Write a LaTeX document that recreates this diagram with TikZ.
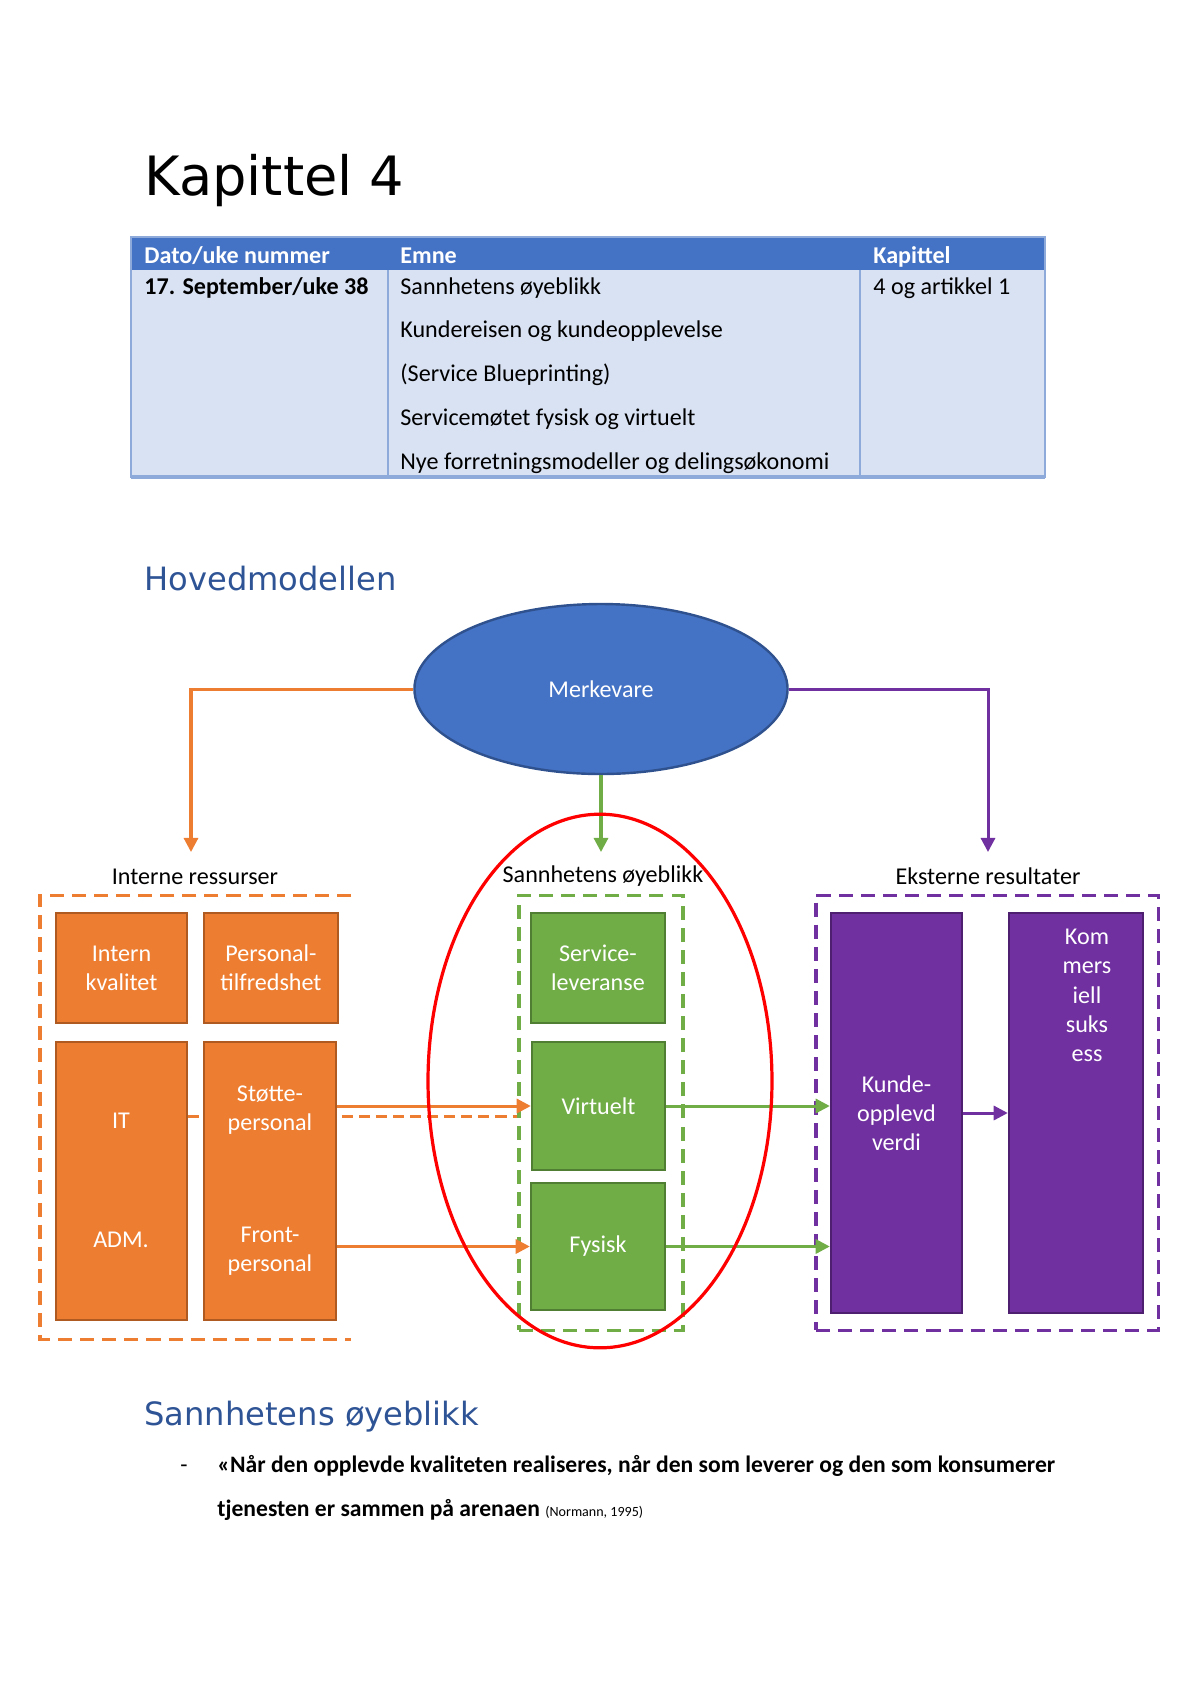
\documentclass[tikz,border=0pt]{standalone}
\usepackage{fontspec}
\setmainfont{Carlito}
\newfontfamily\headfont{DejaVu Sans}
\usetikzlibrary{shapes.geometric,arrows.meta}
\definecolor{tblue}{HTML}{4472C4}
\definecolor{tlight}{HTML}{D9E2F3}
\definecolor{tline}{HTML}{8EAADB}
\definecolor{hblue}{HTML}{2F5496}
\definecolor{oran}{HTML}{ED7D31}
\definecolor{oranD}{HTML}{AE5A21}
\definecolor{gree}{HTML}{70AD47}
\definecolor{greeD}{HTML}{507E32}
\definecolor{purp}{HTML}{7030A0}
\definecolor{purpD}{HTML}{4E1F70}
\definecolor{ellD}{HTML}{2F528F}
\tikzset{
  boxsize/.style 2 args={minimum width=#1*0.0175cm,minimum height=#2*0.0175cm},
  boxtext/.style={text=white,align=center,font=\fontsize{12}{14.5}\selectfont},
  obox/.style={draw=oranD,fill=oran,line width=1.2pt,inner sep=0pt,boxtext},
  gbox/.style={draw=greeD,fill=gree,line width=1.2pt,inner sep=0pt,boxtext},
  pbox/.style={draw=purpD,fill=purp,line width=1.2pt,inner sep=0pt,boxtext},
  dashbox/.style={line width=1.5pt,dash pattern=on 7pt off 4pt,inner sep=0pt},
  grouplabel/.style={anchor=mid,font=\fontsize{12}{14.5}\selectfont},
  celltext/.style={anchor=mid west,inner sep=0pt,font=\fontsize{12}{14}\selectfont},
  quotetext/.style={anchor=mid west,inner sep=0pt,font=\bfseries\fontsize{11.75}{14}\selectfont},
}
\begin{document}
\begin{tikzpicture}[x=0.0175cm,y=-0.0175cm,>={Triangle[length=7pt,width=7pt]}]
    \useasboundingbox (0,0) rectangle (1200,1698);
    \node[anchor=base west,inner sep=0pt,font=\headfont\fontsize{27}{31}\selectfont] (title) at (144,195) {Kapittel 4};
    % table
    \fill[tlight] (131,270) rectangle (1045,477);
    \fill[tblue] (131,237) rectangle (1045,270);
    \draw[tline,line width=1pt] (131,237) rectangle (1045,477);
    \draw[tline,line width=1pt] (388,270) -- (388,477) (860,270) -- (860,477);
    \draw[tline,line width=2pt] (131,477) -- (1045,477);
    \node[celltext,text=white,font=\bfseries\fontsize{12}{14}\selectfont] (h1) at (144,259) {Dato/uke nummer};
    \node[celltext,text=white,font=\bfseries\fontsize{12}{14}\selectfont] (h2) at (400,259) {Emne};
    \node[celltext,text=white,font=\bfseries\fontsize{12}{14}\selectfont] (h3) at (873,259) {Kapittel};
    \node[celltext,font=\bfseries\fontsize{12}{14}\selectfont] (dato) at (144,290) {17. September/uke 38};
    \node[celltext] (emne1) at (400,290) {Sannhetens øyeblikk};
    \node[celltext] (emne2) at (400,333) {Kundereisen og kundeopplevelse};
    \node[celltext] (emne3) at (400,377) {(Service Blueprinting)};
    \node[celltext] (emne4) at (400,421) {Servicemøtet fysisk og virtuelt};
    \node[celltext] (emne5) at (400,465) {Nye forretningsmodeller og delingsøkonomi};
    \node[celltext] (kap) at (873,290) {4 og artikkel 1};
    \node[anchor=base west,inner sep=0pt,text=hblue,font=\headfont\fontsize{16}{19}\selectfont] (hoved) at (144,590) {Hovedmodellen};
    % model
    \node[ellipse,draw=ellD,fill=tblue,line width=1.2pt,minimum width=6.53cm,minimum height=2.975cm,boxtext] (merke) at (601,689) {Merkevare};
    \coordinate (oend) at (191,852);
    \coordinate (gend) at (601,852);
    \coordinate (pend) at (988,852);
    \draw[oran,line width=1.5pt,->] (merke.west) -| (oend);
    \draw[gree,line width=1.5pt,->] (merke.south) -- (gend);
    \draw[purp,line width=1.5pt,->] (merke.east) -| (pend);
    \node[grouplabel] (intlab) at (195,880) {Interne ressurser};
    \node[grouplabel] (sanlab) at (603,878) {Sannhetens øyeblikk};
    \node[grouplabel] (ekslab) at (988,880) {Eksterne resultater};
    \draw[dashbox,oran] (351,895) -- (40,895) -- (40,1339) -- (351,1339);
    \node[dashbox,draw=gree,boxsize={164}{435}] (gdash) at (601,1112.5) {};
    \node[dashbox,draw=purp,boxsize={342}{435}] (pdash) at (987,1112.5) {};
    \node[obox,boxsize={131}{110}] (intern) at (121.5,968) {Intern\\kvalitet};
    \node[obox,boxsize={134}{110}] (tilfreds) at (271,968) {Personal-\\tilfredshet};
    \node[obox,boxsize={131}{278}] (itadm) at (121.5,1181) {};
    \draw[oran,line width=1.5pt,dash pattern=on 5.5pt off 3pt] (itadm.east |- 0,1116) -- (gdash.west |- 0,1116);
    \node[obox,boxsize={132}{278}] (personal) at (270,1181) {};
    \node[boxtext] (it) at (121,1121) {IT};
    \node[boxtext] (adm) at (121,1240) {ADM.};
    \node[boxtext] (stotte) at (270,1110) {Støtte-\\personal};
    \node[boxtext] (front) at (270,1251) {Front-\\personal};
    \node[gbox,boxsize={134}{110}] (service) at (598,968) {Service-\\leveranse};
    \node[gbox,boxsize={133}{128}] (virt) at (598.5,1106) {Virtuelt};
    \node[gbox,boxsize={134}{127}] (fys) at (598,1246.5) {Fysisk};
    \node[pbox,boxsize={131}{400}] (kunde) at (896.5,1113) {Kunde-\\opplevd\\verdi};
    \node[pbox,boxsize={134}{400}] (komm) at (1076,1113) {};
    \node[boxtext,anchor=north,inner sep=0pt] (kommtext) at (1087,929) {Kom\\mers\\iell\\suks\\ess};
    \draw[oran,line width=1.5pt,->] (personal.east |- virt.west) -- (virt.west);
    \draw[oran,line width=1.5pt,->] (personal.east |- fys.west) -- (fys.west);
    \draw[gree,line width=1.5pt,->] (virt.east) -- (kunde.west |- virt.east);
    \draw[gree,line width=1.5pt,->] (fys.east) -- (kunde.west |- fys.east);
    \draw[purp,line width=1.5pt,->] (kunde.east) -- (komm.west |- kunde.east);
    \draw[red,line width=1.6pt] (600,1081) ellipse [x radius=3.01cm,y radius=4.67cm];
    % text below
    \node[anchor=base west,inner sep=0pt,text=hblue,font=\headfont\fontsize{16}{19}\selectfont] (sannhet) at (144,1425) {Sannhetens øyeblikk};
    \node[anchor=mid,inner sep=0pt,font=\fontsize{11.75}{14}\selectfont] (dash) at (184,1468) {-};
    \node[quotetext] (quote1) at (217,1468) {«Når den opplevde kvaliteten realiseres, når den som leverer og den som konsumerer};
    \node[quotetext] (quote2) at (217,1512) {tjenesten er sammen på arenaen {\mdseries\fontsize{7}{8}\selectfont(Normann, 1995)}};
\end{tikzpicture}
\end{document}
